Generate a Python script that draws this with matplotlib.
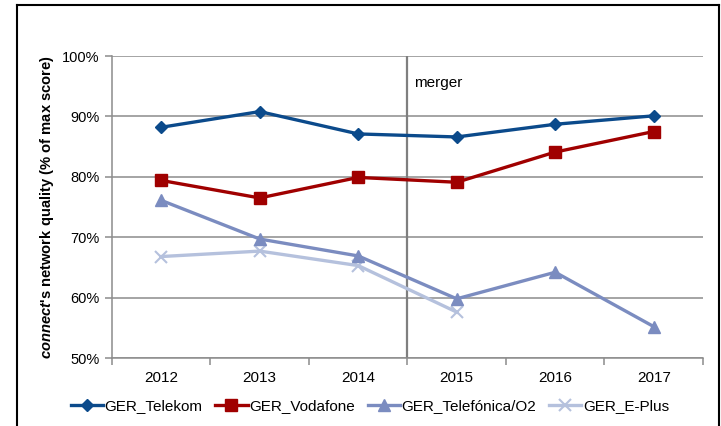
import numpy as np
import matplotlib
matplotlib.use('Agg')
import matplotlib.pyplot as plt
from matplotlib.lines import Line2D

plt.rcParams['font.family'] = ['Liberation Sans', 'DejaVu Sans']
plt.rcParams['mathtext.fontset'] = 'custom'
plt.rcParams['mathtext.it'] = 'Liberation Sans:italic:bold'
plt.rcParams['mathtext.rm'] = 'Liberation Sans:bold'

years = ['2012', '2013', '2014', '2015', '2016', '2017']
telekom = [88.2, 90.8, 87.1, 86.6, 88.7, 90.1]
vodafone = [79.4, 76.5, 79.9, 79.1, 84.1, 87.5]
o2 = [76.1, 69.7, 66.9, 59.8, 64.2, 55.2]
eplus = [66.8, 67.7, 65.3, 57.6]

x = np.arange(1, len(years) + 1)

fig = plt.figure(figsize=(7.21, 4.26), dpi=100)
ax = fig.add_axes([0.1553, 0.1596, 0.975 - 0.1553, 0.8685 - 0.1596])

grey = '#8c8c8c'
ax.plot(x, telekom, color='#0b4a8b', lw=2.4, marker='D', ms=6.5, label='GER_Telekom', zorder=5)
ax.plot(x, vodafone, color='#a00000', lw=2.4, marker='s', ms=8.5, label='GER_Vodafone', zorder=4)
ax.plot(x, o2, color='#7b8cc0', lw=2.4, marker='^', ms=8, label='GER_Telefónica/O2', zorder=3)
ax.plot(x[:len(eplus)], eplus, color='#b5c1dd', lw=2.4, marker='x', ms=8, mew=1.5,
        label='GER_E-Plus', zorder=2)

# merger line
ax.axvline(3.5, color='#7f7f7f', lw=1.6, zorder=1)
ax.text(3.57, 95.5, 'merger', fontsize=11, va='center', ha='left')

ax.set_xlim(0.5, 6.5)
ax.set_ylim(50, 100)
ax.set_yticks(np.arange(50, 101, 10))
ax.set_yticklabels([f'{v}%' for v in range(50, 101, 10)])
ax.yaxis.grid(True, color=grey, lw=1.1)
ax.set_axisbelow(True)

ax.set_xticks(np.arange(0.5, 6.6, 1))
ax.set_xticklabels([])
ax.set_xticks(x, minor=True)
ax.set_xticklabels(years, minor=True)
ax.tick_params(axis='x', which='minor', length=0, pad=9, labelsize=11)
ax.tick_params(axis='x', which='major', length=5, color=grey, width=1.1)
ax.tick_params(axis='y', length=5, color=grey, width=1.1, labelsize=10.5, pad=4)

for s in ['top', 'right']:
    ax.spines[s].set_visible(False)
for s in ['left', 'bottom']:
    ax.spines[s].set_color(grey)
    ax.spines[s].set_linewidth(1.1)

ax.set_ylabel(r"$\it{connect}$'s network quality (% of max score)",
              fontsize=10.6, fontweight='bold', labelpad=4)

fig.legend(loc='center', bbox_to_anchor=(0.513, 0.047), ncol=4, frameon=False,
           fontsize=11, handlelength=2.1, handletextpad=0.1, columnspacing=0.85)

# outer frame
fw = 1.5
fig.add_artist(Line2D([17 / 721, 17 / 721], [0, 1 - 5 / 426], color='black', lw=fw))
fig.add_artist(Line2D([17 / 721, 719 / 721], [1 - 5 / 426, 1 - 5 / 426], color='black', lw=fw))
fig.add_artist(Line2D([719 / 721, 719 / 721], [0, 1 - 5 / 426], color='black', lw=fw))

fig.savefig('out.png', dpi=100)
